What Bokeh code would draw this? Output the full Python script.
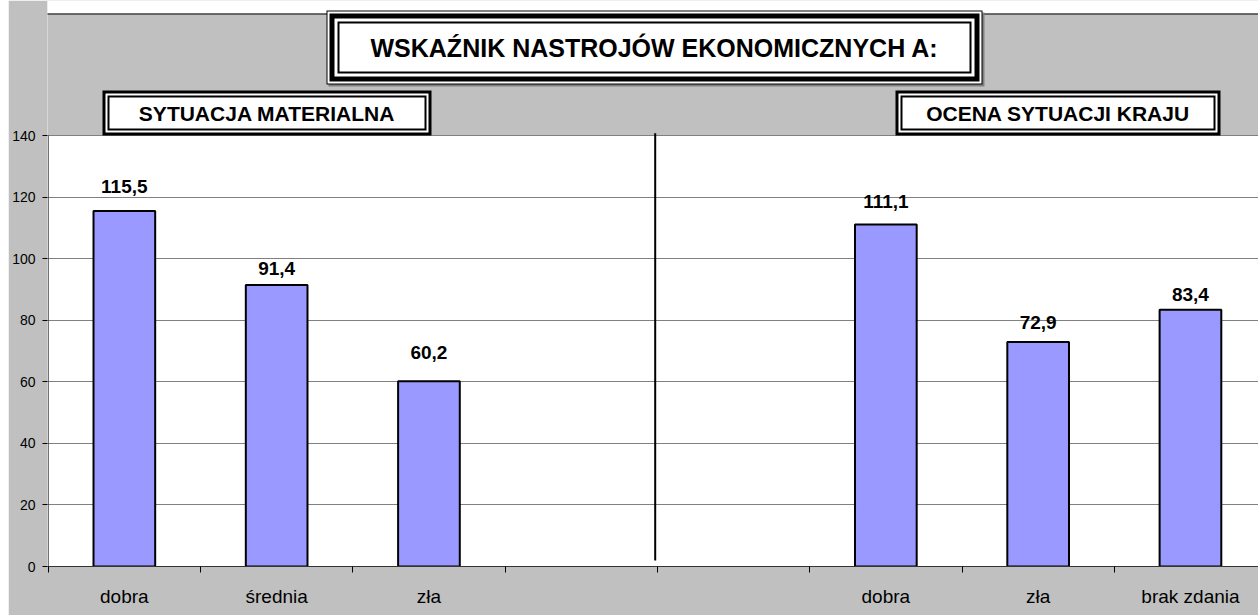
from bokeh.plotting import figure
from bokeh.models import Range1d, FixedTicker, Spacer
from bokeh.layouts import row
from bokeh.core.properties import value
from bokeh.embed import file_html
from bokeh.resources import INLINE

# ---------------- data ----------------
title_text = "WSKAŹNIK NASTROJÓW EKONOMICZNYCH A:"
group1_title = "SYTUACJA MATERIALNA"
group1_cats = ["dobra", "średnia", "zła"]
group1_vals = [115.5, 91.4, 60.2]
group2_title = "OCENA SYTUACJI KRAJU"
group2_cats = ["dobra", "zła", "brak zdania"]
group2_vals = [111.1, 72.9, 83.4]
y_ticks = [0, 20, 40, 60, 80, 100, 120, 140]

# ---------------- layout ----------------
group1_slots = [0, 1, 2]
group2_slots = [5, 6, 7]
n_slots = 8
label_dy = [-24, -17, -29, -23, -20, -15]   # screen px offsets of value labels

W, H = 1250, 615
FIG_X, FIG_Y = 8, 0
ML, MB = 39, 49
X0 = 47.7          # page x of the first slot boundary
SX = 152.3         # px per slot
Y0 = 566.0         # page y of value 0
SY = 431.0 / 140   # px per unit

FONT = value("Liberation Sans")
GRAY = "#c0c0c0"
BAR = "#9999ff"


def px(x):
    return (x - X0) / SX - 0.5


def py(y):
    return (Y0 - y) / SY


p = figure(width=W, height=H, title=None,
           x_range=Range1d(px(FIG_X + ML), px(FIG_X + W)),
           y_range=Range1d(py(FIG_Y + H - MB), py(FIG_Y)),
           output_backend="svg", toolbar_location=None,
           min_border_left=ML, min_border_bottom=MB, min_border_top=0, min_border_right=0,
           border_fill_color=GRAY, background_fill_color="white",
           outline_line_color=None)

# axes
slots = group1_slots + group2_slots
cats = group1_cats + group2_cats
vals = group1_vals + group2_vals

p.xaxis.ticker = FixedTicker(ticks=slots, minor_ticks=[i - 0.5 for i in range(n_slots + 1)])
p.xaxis.major_label_overrides = {s: c for s, c in zip(slots, cats)}
p.xaxis.major_tick_line_color = None
p.xaxis.minor_tick_line_color = "black"
p.xaxis.minor_tick_in = 0
p.xaxis.minor_tick_out = 6
p.xaxis.axis_line_color = "#333333"
p.xaxis.major_label_text_font = "Liberation Sans"
p.xaxis.major_label_text_font_size = "19px"
p.xaxis.major_label_text_color = "black"
p.xaxis.major_label_standoff = 13

p.yaxis.ticker = FixedTicker(ticks=y_ticks, minor_ticks=[])
p.yaxis.axis_line_color = None
p.yaxis.major_tick_line_color = "black"
p.yaxis.major_tick_in = 0
p.yaxis.major_tick_out = 5
p.yaxis.minor_tick_line_color = None
p.yaxis.major_label_text_font = "Liberation Sans"
p.yaxis.major_label_text_font_size = "14px"
p.yaxis.major_label_text_color = "black"
p.yaxis.major_label_standoff = 7

p.xgrid.grid_line_color = None
p.ygrid.ticker = FixedTicker(ticks=y_ticks)
p.ygrid.grid_line_color = "#808080"
p.ygrid.grid_line_width = 1

XL, XR = px(0), px(1400)

# gray chart area above the plot area, white strip at the very top, border line
p.quad(left=[XL], right=[XR], bottom=[py(134.5)], top=[py(-5)], fill_color=GRAY, line_color=None)
p.quad(left=[XL], right=[XR], bottom=[py(13)], top=[py(-5)], fill_color="white", line_color=None)
p.segment(x0=[XL], x1=[XR], y0=[py(13.5)], y1=[py(13.5)], line_color="black", line_width=1)


def boxed(x0, x1, y0, y1, layers):
    for inset, color in layers:
        p.quad(left=[px(x0 + inset)], right=[px(x1 - inset)],
               top=[py(y0 + inset)], bottom=[py(y1 - inset)],
               fill_color=color, line_color=None)


# main title box (with shadow)
p.quad(left=[px(328)], right=[px(984)], top=[py(12)], bottom=[py(86)], fill_color="#808080", line_color=None)
boxed(326, 982, 10, 84, [(0, "black"), (1, "white"), (3, "black"), (8, "white"), (11, "black"), (13, "white")])
p.text(x=[px(654)], y=[py(47)], text=[title_text], text_align="center", text_baseline="middle",
       text_font=FONT, text_font_style="bold", text_font_size="25px", text_color="black")

# group title boxes
sub_layers = [(0, "black"), (3, "white"), (5, "black"), (7, "white")]
boxed(102, 431, 90, 135, sub_layers)
boxed(895, 1220, 90, 135, sub_layers)
p.text(x=[px(266.5), px(1057.5)], y=[py(112.5), py(112.5)], text=[group1_title, group2_title],
       text_align="center", text_baseline="middle",
       text_font=FONT, text_font_style="bold", text_font_size="21px", text_color="black")

# left axis line of the plot area
p.segment(x0=[-0.5], x1=[-0.5], y0=[0], y1=[140], line_color="#333333", line_width=1)

# bars
p.vbar(x=slots, top=vals, width=0.405, bottom=0, fill_color=BAR, line_color="black", line_width=2)

# value labels
for s, v, dy in zip(slots, vals, label_dy):
    p.text(x=[s], y=[v], text=[f"{v:.1f}".replace(".", ",")], y_offset=dy,
           text_align="center", text_baseline="alphabetic",
           text_font=FONT, text_font_style="bold", text_font_size="19px", text_color="black")

# separator line between the two groups
p.segment(x0=[px(654.7)], x1=[px(654.7)], y0=[py(560)], y1=[py(132.7)], line_color="black", line_width=2)

layout = row(Spacer(width=FIG_X, height=H), p)
open("out.html", "w").write(file_html(layout, INLINE))
